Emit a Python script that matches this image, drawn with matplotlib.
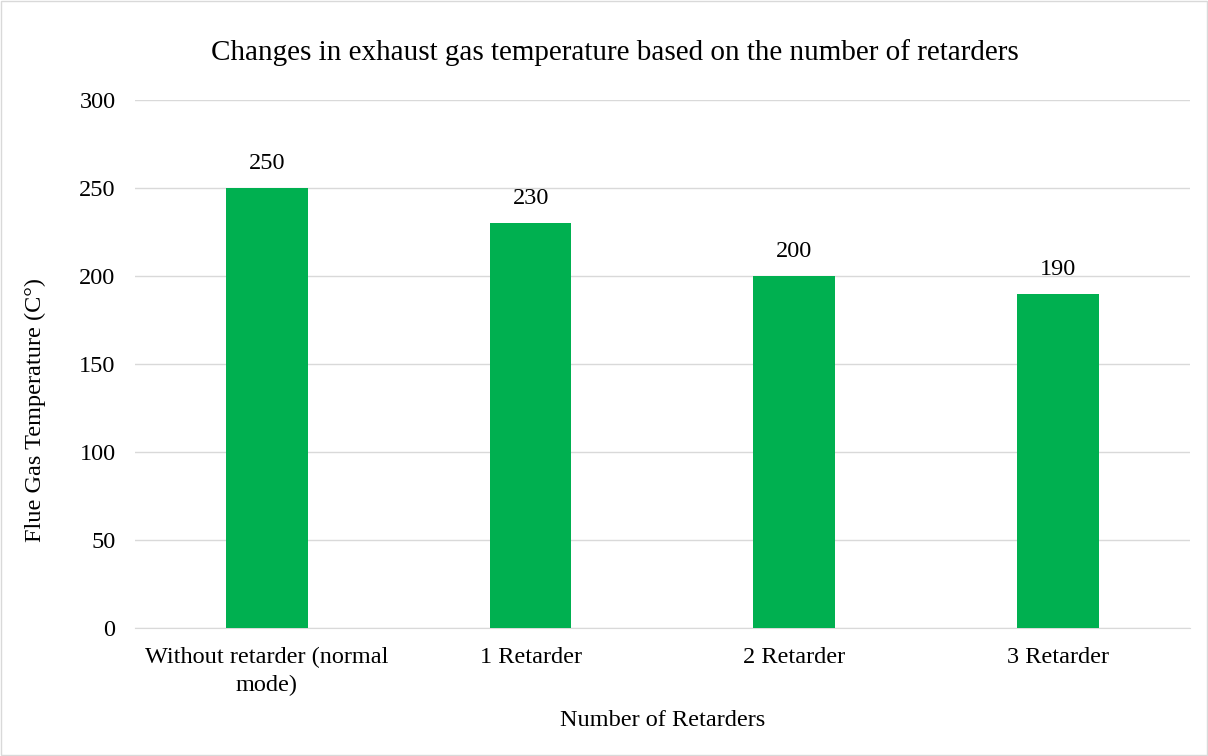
import matplotlib
matplotlib.use("Agg")
import matplotlib.pyplot as plt
from matplotlib.patches import Rectangle

categories = ["Without retarder (normal\nmode)", "1 Retarder", "2 Retarder", "3 Retarder"]
values = [250, 230, 200, 190]
yticks = [0, 50, 100, 150, 200, 250, 300]

plt.rcParams['font.family'] = ['Liberation Serif', 'DejaVu Serif']

fig = plt.figure(figsize=(12.08, 7.56), dpi=100)
ax = fig.add_axes([0.1118, 0.1693, 0.8732, 0.6984])

x = list(range(len(categories)))
ax.bar(x, values, width=0.31, color='#00B050', zorder=3)
for xi, v in zip(x, values):
    ax.annotate(str(v), (xi, v), xytext=(0, 10), textcoords='offset points',
                ha='center', va='bottom', fontsize=17.5, color='#000000')

ax.set_xlim(-0.5, len(categories) - 0.5)
ax.set_ylim(0, 300)
ax.set_yticks(yticks)
ax.set_yticklabels([str(t) for t in yticks], fontsize=17.5)
ax.set_xticks(x)
ax.set_xticklabels(categories, fontsize=17.5, linespacing=1.42)
ax.yaxis.grid(True, color='#D9D9D9', linewidth=1, zorder=0)
ax.tick_params(axis='y', length=0, pad=14)
ax.tick_params(axis='x', length=0, pad=13.5)
for s in ['top', 'right', 'left']:
    ax.spines[s].set_visible(False)
ax.spines['bottom'].set_color('#D9D9D9')

fig.text(0.509, 1 - 53 / 756, "Changes in exhaust gas temperature based on the number of retarders",
         fontsize=21, ha='center', va='center')
fig.text(35 / 1208, 1 - 410 / 756, "Flue Gas Temperature (C°)", fontsize=17.5,
         rotation=90, ha='center', va='center')
fig.text(663 / 1208, 1 - 720 / 756, "Number of Retarders", fontsize=17.5,
         ha='center', va='center')

fig.patches.append(Rectangle((0.001, 0.001), 0.998, 0.998, transform=fig.transFigure,
                             fill=False, edgecolor='#D9D9D9', linewidth=1))

fig.savefig("out.png", dpi=100)
